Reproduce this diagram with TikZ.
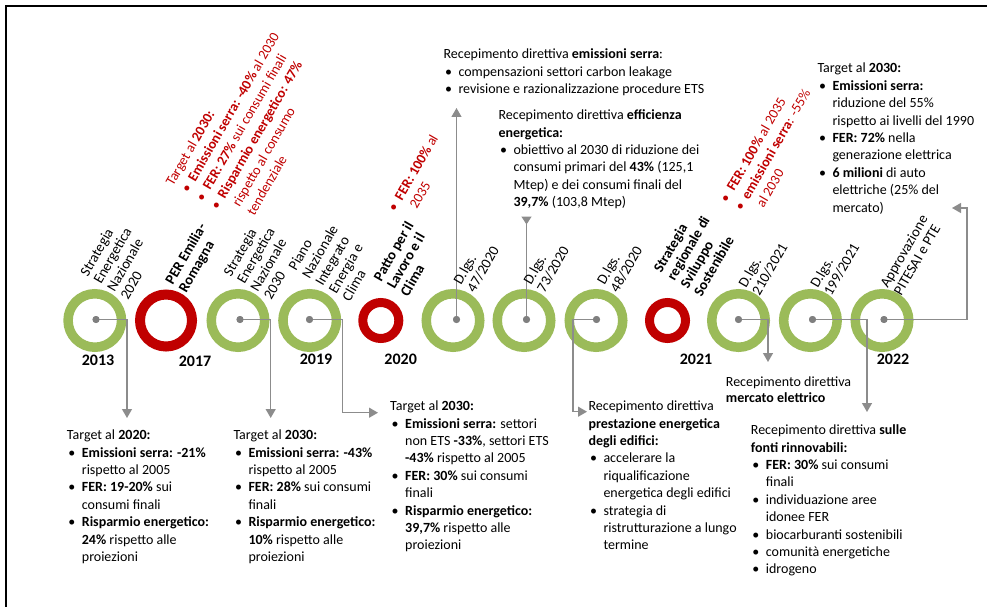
\documentclass[tikz,border=0pt]{standalone}
\usepackage{fontspec}
\setmainfont{Carlito}
\usetikzlibrary{arrows.meta}
\definecolor{cgreen}{HTML}{9BBB59}
\definecolor{cred}{HTML}{C00000}
\definecolor{cline}{HTML}{8C8C8C}
\definecolor{cdot}{HTML}{7F7F7F}
\newcommand\bitem{\makebox[15pt][l]{\hspace{1.5pt}•}}
\newcommand\bcont{\makebox[15pt]{}}
\begin{document}
\begin{tikzpicture}[x=1pt,y=-1pt,
  gring/.style={circle,draw=cgreen,line width=9.5pt,minimum size=53.5pt,inner sep=0pt},
  rring/.style={circle,draw=cred,line width=10pt,minimum size=52pt,inner sep=0pt},
  sring/.style={circle,draw=cred,line width=9pt,minimum size=36pt,inner sep=0pt},
  dotnode/.style={circle,fill=cdot,minimum size=7pt,inner sep=0pt},
  conn/.style={draw=cline,line width=1.3pt,-{Triangle[length=9pt,width=10pt]}},
  connr/.style={draw=cline,line width=1.3pt,-{Triangle[reversed,length=8pt,width=10pt]}},
  txt/.style={anchor=north west,inner sep=0pt,align=left,font=\fontsize{14}{17.4}\selectfont},
  rlab/.style={anchor=north west,inner sep=0pt,align=left,rotate=60,font=\fontsize{14.5}{15.5}\selectfont},
  rlabb/.style={rlab,font=\bfseries\fontsize{14.5}{15.5}\selectfont},
  rred/.style={anchor=north west,inner sep=0pt,align=left,rotate=60,text=cred,font=\fontsize{14}{17}\selectfont},
  year/.style={inner sep=0pt,font=\bfseries\fontsize{16}{18}\selectfont}]
\useasboundingbox (0,0) rectangle (987,607);
% frame
\draw[line width=1.8pt] (6,607) -- (6,6) -- (987,6);
% circles
\node[gring] (c1) at (94.8,320.5) {};
\node[rring] (c2) at (166,320.5) {};
\node[gring] (c3) at (238,320.5) {};
\node[gring] (c4) at (309.7,320.5) {};
\node[sring] (c5) at (380.8,320.5) {};
\node[gring] (c6) at (453,320.5) {};
\node[gring] (c7) at (524,320.5) {};
\node[gring] (c8) at (596,320.5) {};
\node[sring] (c9) at (667.5,320.5) {};
\node[gring] (c10) at (738.5,320.5) {};
\node[gring] (c11) at (810.4,320.5) {};
\node[gring] (c12) at (882,320.5) {};
% dots
\node[dotnode] (d1) at (96,319.5) {};
\node[dotnode] (d3) at (240,319.5) {};
\node[dotnode] (d4) at (309.5,319.5) {};
\node[dotnode] (d6) at (456.5,319.5) {};
\node[dotnode] (d7) at (526.5,319.5) {};
\node[dotnode] (d8) at (596.5,319.5) {};
\node[dotnode] (d10) at (738.5,319.5) {};
\node[dotnode] (d11) at (812.5,319.5) {};
\node[dotnode] (d12) at (884,319.5) {};
% connector ends
\coordinate (a1) at (127,418);
\coordinate (a2) at (270.7,418);
\coordinate (k3) at (342.7,412.7);
\coordinate (a3) at (378,412.7);
\coordinate (a4) at (456.5,108);
\coordinate (a5) at (526.5,216.5);
\coordinate (k6) at (573,411.7);
\coordinate (a6) at (587,411.7);
\coordinate (a7) at (768,362);
\coordinate (a8) at (867,412);
\coordinate (k9) at (967,208);
\coordinate (a9) at (952,208);
\draw[conn] (d1.center) -| (a1);
\draw[conn] (d3.center) -| (a2);
\draw[conn] (d4.center) -| (k3) -- (a3);
\draw[conn] (d6.center) -- (a4);
\draw[connr] (d7.center) -- (a5);
\draw[conn] (d8.center) -| (k6) -- (a6);
\draw[conn] (d10.center) -| (a7);
\draw[conn] (d11.center) -| (a8);
\draw[conn] (d12.center) -| (k9) -- (a9);
% dots on top of connectors
\foreach \d in {d1,d3,d4,d6,d7,d8,d10,d11,d12} {\fill[cdot] (\d.center) circle (3.5pt);}
% years
\node[year] (y2013) at (98,360) {2013};
\node[year] (y2017) at (195,361) {2017};
\node[year] (y2019) at (316,359) {2019};
\node[year] (y2020) at (400.7,359) {2020};
\node[year] (y2021) at (696,359) {2021};
\node[year] (y2022) at (893,359) {2022};
% rotated labels
\node[rlab] (l1) at (78.9,272.2) {Strategia\\Energetica\\Nazionale\\2020};
\node[rlabb] (l2) at (163.9,280.5) {PER Emilia-\\Romagna};
\node[rlab] (l3) at (222.2,272.2) {Strategia\\Energetica\\Nazionale\\2030};
\node[rlab] (l4) at (287.2,266.5) {Piano\\Nazionale\\Integrato\\Energia e\\Clima};
\node[rlabb] (l5) at (372.2,277.2) {Patto per il\\Lavoro e il\\Clima};
\node[rlab] (l6) at (452.2,280.5) {D.lgs.\\47/2020};
\node[rlab] (l7) at (522.2,280.5) {D.lgs.\\73/2020};
\node[rlab] (l8) at (595.5,280.5) {D.lgs.\\48/2020};
\node[rlabb] (l9) at (652.2,268.8) {Strategia\\regionale di\\Sviluppo\\Sostenibile};
\node[rlab] (l10) at (737.2,283.5) {D.lgs.\\210/2021};
\node[rlab] (l11) at (808.9,283.8) {D.lgs.\\199/2021};
\node[rlab] (l12) at (878.9,283.8) {Approvazione\\PITESAI e PTE};
% red rotated annotations
\node[rred] (r1) at (164.5,182) {Target al \textbf{2030:}\\
 \bitem\textbf{Emissioni serra: -40\%} al 2030\\
 \bitem\textbf{FER: 27\%} sui consumi finali\\
 \bitem\textbf{Risparmio energetico: 47\%}\\
 \bcont rispetto al consumo\\
 \bcont tendenziale};
\node[rred] (r2) at (386,209.5) {\bitem\textbf{FER: 100\%} al\\ \bcont 2035};
\node[rred] (r3) at (718,199.9) {\bitem\textbf{FER: 100\%} al 2035\\
 \bitem\textbf{emissioni serra}: -55\%\\
 \bcont al 2030};
% top texts
\node[txt] (t1) at (443.3,48.7) {Recepimento direttiva \textbf{emissioni serra}:\\
 \bitem compensazioni settori carbon leakage\\
 \bitem revisione e razionalizzazione procedure ETS};
\node[txt] (t2) at (498.3,109.7) {Recepimento direttiva \textbf{efficienza}\\
 \textbf{energetica:}\\
 \bitem obiettivo al 2030 di riduzione dei\\
 \bcont consumi primari del \textbf{43\%} (125,1\\
 \bcont Mtep) e dei consumi finali del\\
 \bcont \textbf{39,7\%} (103,8 Mtep)};
\node[txt] (t3) at (817.3,63) {Target al \textbf{2030:}\\
 \bitem\textbf{Emissioni serra:}\\
 \bcont riduzione del 55\%\\
 \bcont rispetto ai livelli del 1990\\
 \bitem\textbf{FER: 72\%} nella\\
 \bcont generazione elettrica\\
 \bitem\textbf{6 milioni} di auto\\
 \bcont elettriche (25\% del\\
 \bcont mercato)};
% bottom texts
\node[txt] (b1) at (66.7,429.7) {Target al \textbf{2020:}\\
 \bitem\textbf{Emissioni serra: -21\%}\\
 \bcont rispetto al 2005\\
 \bitem\textbf{FER: 19-20\%} sui\\
 \bcont consumi finali\\
 \bitem\textbf{Risparmio energetico:}\\
 \bcont\textbf{24\%} rispetto alle\\
 \bcont proiezioni};
\node[txt] (b2) at (233.3,429.7) {Target al \textbf{2030:}\\
 \bitem\textbf{Emissioni serra: -43\%}\\
 \bcont rispetto al 2005\\
 \bitem\textbf{FER: 28\%} sui consumi\\
 \bcont finali\\
 \bitem\textbf{Risparmio energetico:}\\
 \bcont\textbf{10\%} rispetto alle\\
 \bcont proiezioni};
\node[txt] (b3) at (390,400.7) {Target al \textbf{2030:}\\
 \bitem\textbf{Emissioni serra:} settori\\
 \bcont non ETS \textbf{-33\%}, settori ETS\\
 \bcont\textbf{-43\%} rispetto al 2005\\
 \bitem\textbf{FER: 30\%} sui consumi\\
 \bcont finali\\
 \bitem\textbf{Risparmio energetico:}\\
 \bcont\textbf{39,7\%} rispetto alle\\
 \bcont proiezioni};
\node[txt] (b4) at (588.3,400.7) {Recepimento direttiva\\
 \textbf{prestazione energetica}\\
 \textbf{degli edifici:}\\
 \bitem accelerare la\\
 \bcont riqualificazione\\
 \bcont energetica degli edifici\\
 \bitem strategia di\\
 \bcont ristrutturazione a lungo\\
 \bcont termine};
\node[txt,font=\fontsize{14}{16.6}\selectfont] (b5) at (725.7,376.4) {Recepimento direttiva\\
 \textbf{mercato elettrico}};
\node[txt] (b6) at (750.7,424.7) {Recepimento direttiva \textbf{sulle}\\
 \textbf{fonti rinnovabili:}\\
 \bitem\textbf{FER: 30\%} sui consumi\\
 \bcont finali\\
 \bitem individuazione aree\\
 \bcont idonee FER\\
 \bitem biocarburanti sostenibili\\
 \bitem comunità energetiche\\
 \bitem idrogeno};
\end{tikzpicture}
\end{document}
